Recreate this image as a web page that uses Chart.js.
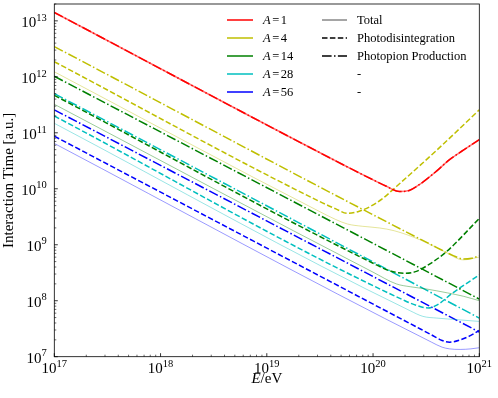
<!DOCTYPE html>
<html>
<head>
<meta charset="utf-8">
<script src="https://cdn.jsdelivr.net/npm/chart.js@4.4.0/dist/chart.umd.min.js"></script>
<style>
  html, body { margin: 0; padding: 0; background: #fff; }
  #wrap { width: 498px; height: 398px; }
</style>
</head>
<body>
<div id="wrap"><canvas id="chart" width="498" height="398"></canvas></div>
<script>
// all values are log10 : E in eV, interaction time in a.u.

// A = 1 (no photodisintegration, total == photopion)
const a1PionE = [17, 19.8, 20.0, 20.12, 20.25, 20.34, 20.44, 20.6, 20.72, 20.85, 21];
const a1PionT = [13.15, 10.35, 10.16, 10.05, 9.95, 9.97, 10.08, 10.32, 10.52, 10.69, 10.88];

// A = 4
const a4DisE = [17, 19.5, 19.65, 19.76, 19.87, 19.97, 20.1, 20.19, 20.6, 21];
const a4DisT = [12.27, 9.77, 9.64, 9.56, 9.6, 9.68, 9.84, 9.99, 10.69, 11.41];
const a4PionE = [17, 20.6, 20.75, 20.85, 20.93, 21];
const a4PionT = [12.54, 8.95, 8.81, 8.745, 8.76, 8.8];
const a4TotE = [17, 19.5, 19.65, 19.76, 19.9, 20.06, 20.2, 20.44, 20.66, 20.85, 21];
const a4TotT = [12.09, 9.59, 9.45, 9.37, 9.33, 9.3, 9.25, 9.09, 8.89, 8.73, 8.78];

// A = 14
const a14DisE = [17, 20.0, 20.15, 20.29, 20.4, 20.52, 20.69, 21];
const a14DisT = [11.67, 8.67, 8.54, 8.49, 8.52, 8.64, 8.875, 9.47];
const a14PionE = [17, 21];
const a14PionT = [12.01, 8.03];
const a14TotE = [17, 20.0, 20.22, 20.35, 20.5, 20.7, 20.85, 21];
const a14TotT = [11.51, 8.51, 8.30, 8.25, 8.21, 8.14, 8.08, 8.0];

// A = 28
const a28DisE = [17, 20.3, 20.42, 20.52, 20.6, 20.75, 21];
const a28DisT = [11.30, 8.0, 7.91, 7.87, 7.92, 8.14, 8.46];
const a28PionE = [17, 21];
const a28PionT = [11.70, 7.69];
const a28TotE = [17, 20.35, 20.47, 20.6, 20.8, 21];
const a28TotT = [11.17, 7.82, 7.72, 7.69, 7.66, 7.63];

// A = 56
const a56DisE = [17, 20.45, 20.55, 20.65, 20.72, 20.82, 20.92, 21];
const a56DisT = [10.94, 7.49, 7.39, 7.29, 7.26, 7.30, 7.38, 7.47];
const a56PionE = [17, 21];
const a56PionT = [11.41, 7.44];
const a56TotE = [17, 20.55, 20.65, 20.72, 20.82, 20.92, 21];
const a56TotT = [10.81, 7.26, 7.17, 7.14, 7.13, 7.14, 7.16];

const massLabels = ["1", "4", "14", "28", "56"];
const massColors = ["255,0,0", "191,191,0", "0,128,0", "0,191,191", "0,0,255"];
const styleLabels = ["Total", "Photodisintegration", "Photopion Production", "-", "-"];

const xTickExp = [17, 18, 19, 20, 21];
const yTickExp = [7, 8, 9, 10, 11, 12, 13];

const DASHED = [5.5, 2.4];
const DASHDOT = [9.6, 2.4, 1.5, 2.4];
const SERIF = "'Liberation Serif', 'DejaVu Serif', serif";

function toPoints(logE, logT) {
	return logE.map((e, i) => ({ x: Math.pow(10, e), y: Math.pow(10, logT[i]) }));
}

function makeLine(colorIdx, logE, logT, kind) {
	let c = massColors[colorIdx];
	let ds = {
		data: toPoints(logE, logT),
		borderColor: "rgb(" + c + ")",
		borderWidth: 1.5,
		borderDash: [],
		pointRadius: 0
	};
	if (kind == "total") {
		ds.borderColor = "rgba(" + c + ",0.4)";
		ds.borderWidth = 1;
	} else if (kind == "dis") {
		ds.borderDash = DASHED;
	} else {
		ds.borderDash = DASHDOT;
	}
	return ds;
}

//red total sits right under the red photopion line, so it looks almost solid
let redTotal = makeLine(0, a1PionE, a1PionT, "total");
redTotal.borderColor = "rgba(255,0,0,0.55)";
redTotal.borderWidth = 1.5;

let datasets = [
	makeLine(0, a1PionE, a1PionT, "pion"),
	redTotal,
	makeLine(1, a4TotE, a4TotT, "total"),
	makeLine(1, a4DisE, a4DisT, "dis"),
	makeLine(1, a4PionE, a4PionT, "pion"),
	makeLine(2, a14TotE, a14TotT, "total"),
	makeLine(2, a14DisE, a14DisT, "dis"),
	makeLine(2, a14PionE, a14PionT, "pion"),
	makeLine(3, a28TotE, a28TotT, "total"),
	makeLine(3, a28DisE, a28DisT, "dis"),
	makeLine(3, a28PionE, a28PionT, "pion"),
	makeLine(4, a56TotE, a56TotT, "total"),
	makeLine(4, a56DisE, a56DisT, "dis"),
	makeLine(4, a56PionE, a56PionT, "pion")
];

// major + minor log ticks
function logTicks(exps, maxVal) {
	let list = [];
	for (let i = 0; i < exps.length; i++) {
		let base = Math.pow(10, exps[i]);
		for (let k = 1; k <= 9; k++) {
			let v = base * k;
			if (v > maxVal * 1.0001) break;
			list.push({ value: v, major: k == 1 });
		}
	}
	return list;
}

function drawPower(ctx, exp, x, y, align) {
	// "10" with superscript exponent, y is the baseline of "10"
	ctx.font = "15px " + SERIF;
	let wBase = ctx.measureText("10").width;
	ctx.font = "10.5px " + SERIF;
	let wExp = ctx.measureText(String(exp)).width;
	let left = align == "right" ? x - wBase - wExp : x - (wBase + wExp) / 2;
	ctx.textAlign = "left";
	ctx.textBaseline = "alphabetic";
	ctx.font = "15px " + SERIF;
	ctx.fillText("10", left, y);
	ctx.font = "10.5px " + SERIF;
	ctx.fillText(String(exp), left + wBase, y - 6.3);
}

const decorPlugin = {
	id: "decor",
	afterDraw(chart) {
		let ctx = chart.ctx;
		let area = chart.chartArea;
		let xs = chart.scales.x;
		let ys = chart.scales.y;
		ctx.save();
		ctx.fillStyle = "#000";
		ctx.strokeStyle = "#000";

		//frame
		ctx.lineWidth = 0.8;
		ctx.strokeRect(area.left, area.top, area.right - area.left, area.bottom - area.top);

		//inward ticks
		xs.ticks.forEach(t => {
			let px = xs.getPixelForValue(t.value);
			ctx.lineWidth = t.major ? 0.8 : 0.6;
			ctx.beginPath();
			ctx.moveTo(px, area.bottom);
			ctx.lineTo(px, area.bottom - (t.major ? 3.5 : 2));
			ctx.stroke();
		});
		ys.ticks.forEach(t => {
			let py = ys.getPixelForValue(t.value);
			ctx.lineWidth = t.major ? 0.8 : 0.6;
			ctx.beginPath();
			ctx.moveTo(area.left, py);
			ctx.lineTo(area.left + (t.major ? 3.5 : 2), py);
			ctx.stroke();
		});

		//tick labels
		xTickExp.forEach(e => {
			let px = xs.getPixelForValue(Math.pow(10, e));
			drawPower(ctx, e, px, area.bottom + 16.5, "center");
		});
		yTickExp.forEach(e => {
			let py = ys.getPixelForValue(Math.pow(10, e));
			drawPower(ctx, e, area.left - 7.5, py + 6, "right");
		});

		//axis titles
		ctx.textBaseline = "alphabetic";
		ctx.font = "italic 15px " + SERIF;
		let wE = ctx.measureText("E").width;
		ctx.font = "15px " + SERIF;
		let wRest = ctx.measureText("/eV").width;
		let cx = (area.left + area.right) / 2;
		ctx.textAlign = "left";
		ctx.font = "italic 15px " + SERIF;
		ctx.fillText("E", cx - (wE + wRest) / 2, 383);
		ctx.font = "15px " + SERIF;
		ctx.fillText("/eV", cx - (wE + wRest) / 2 + wE, 383);

		ctx.save();
		ctx.translate(9.5, (area.top + area.bottom) / 2);
		ctx.rotate(-Math.PI / 2);
		ctx.textAlign = "center";
		ctx.textBaseline = "middle";
		ctx.font = "15px " + SERIF;
		ctx.fillText("Interaction Time [a.u.]", 0, 0);
		ctx.restore();

		//legend
		let rowY = [20, 38, 56, 74, 92];
		ctx.textBaseline = "middle";
		for (let i = 0; i < massLabels.length; i++) {
			let y = rowY[i];
			ctx.strokeStyle = "rgb(" + massColors[i] + ")";
			ctx.lineWidth = 1.5;
			ctx.setLineDash([]);
			ctx.beginPath();
			ctx.moveTo(227, y);
			ctx.lineTo(253, y);
			ctx.stroke();

			ctx.fillStyle = "#000";
			ctx.font = "italic 12.5px " + SERIF;
			ctx.fillText("A", 263, y + 0.5);
			let wA = ctx.measureText("A").width;
			ctx.font = "12.5px " + SERIF;
			ctx.fillText("=", 263 + wA + 1.5, y + 0.5);
			let wEq = ctx.measureText("=").width;
			ctx.fillText(massLabels[i], 263 + wA + wEq + 3, y + 0.5);
		}
		let styleDash = [[], DASHED, DASHDOT];
		for (let i = 0; i < styleLabels.length; i++) {
			let y = rowY[i];
			if (i < 3) {
				ctx.strokeStyle = i == 0 ? "rgba(0,0,0,0.7)" : "#000";
				ctx.lineWidth = i == 0 ? 1 : 1.5;
				ctx.setLineDash(styleDash[i]);
				ctx.beginPath();
				ctx.moveTo(322, y);
				ctx.lineTo(347, y);
				ctx.stroke();
			}
			ctx.setLineDash([]);
			ctx.fillStyle = "#000";
			ctx.font = "12.5px " + SERIF;
			ctx.fillText(styleLabels[i], 357, y + 0.5);
		}
		ctx.restore();
	}
};

let ctxChart = document.getElementById("chart").getContext("2d");
let interactionChart = new Chart(ctxChart, {
	type: "line",
	data: { datasets: datasets },
	options: {
		responsive: false,
		animation: false,
		devicePixelRatio: 1,
		layout: { padding: { top: 4, right: 18.7, left: 0, bottom: 0 } },
		plugins: { legend: { display: false }, tooltip: { enabled: false } },
		elements: { line: { cubicInterpolationMode: "monotone", fill: false } },
		scales: {
			x: {
				type: "logarithmic",
				min: 1e17,
				max: 1e21,
				grid: { display: false },
				border: { display: false },
				ticks: { display: false },
				afterBuildTicks: s => { s.ticks = logTicks(xTickExp, 1e21); },
				afterFit: s => { s.height = 41.3; }
			},
			y: {
				type: "logarithmic",
				min: 1e7,
				max: 2e13,
				grid: { display: false },
				border: { display: false },
				ticks: { display: false },
				afterBuildTicks: s => { s.ticks = logTicks(yTickExp, 2e13); },
				afterFit: s => { s.width = 54.3; }
			}
		}
	},
	plugins: [decorPlugin]
});
</script>
</body>
</html>
